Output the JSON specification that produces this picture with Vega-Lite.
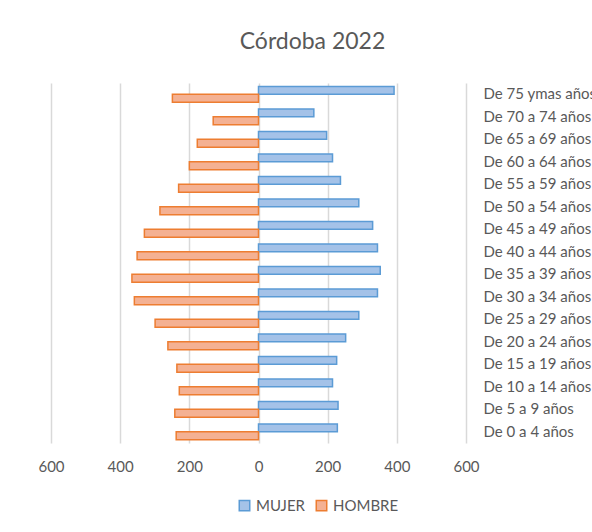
{
  "$schema": "https://vega.github.io/schema/vega-lite/v6.json",
  "autosize": {"type": "none"},
  "padding": {"left": 51, "top": 83, "right": 126, "bottom": 89},
  "width": 415,
  "height": 360,
  "background": "white",
  "title": {
    "text": "Córdoba  2022",
    "font": "Lato",
    "fontSize": 23,
    "fontWeight": "normal",
    "color": "#595959",
    "anchor": "middle",
    "frame": "group",
    "dx": 54,
    "offset": 29
  },
  "data": {
    "values": [
      {"grupo": "De 75 ymas años", "sexo": "MUJER", "valor": 392},
      {"grupo": "De 75 ymas años", "sexo": "HOMBRE", "valor": -249},
      {"grupo": "De 70 a 74 años", "sexo": "MUJER", "valor": 160},
      {"grupo": "De 70 a 74 años", "sexo": "HOMBRE", "valor": -131},
      {"grupo": "De 65 a 69 años", "sexo": "MUJER", "valor": 197},
      {"grupo": "De 65 a 69 años", "sexo": "HOMBRE", "valor": -177},
      {"grupo": "De 60 a 64 años", "sexo": "MUJER", "valor": 214},
      {"grupo": "De 60 a 64 años", "sexo": "HOMBRE", "valor": -200},
      {"grupo": "De 55 a 59 años", "sexo": "MUJER", "valor": 237},
      {"grupo": "De 55 a 59 años", "sexo": "HOMBRE", "valor": -231},
      {"grupo": "De 50 a 54 años", "sexo": "MUJER", "valor": 290},
      {"grupo": "De 50 a 54 años", "sexo": "HOMBRE", "valor": -285},
      {"grupo": "De 45 a 49 años", "sexo": "MUJER", "valor": 330},
      {"grupo": "De 45 a 49 años", "sexo": "HOMBRE", "valor": -330},
      {"grupo": "De 40 a 44 años", "sexo": "MUJER", "valor": 344},
      {"grupo": "De 40 a 44 años", "sexo": "HOMBRE", "valor": -351},
      {"grupo": "De 35 a 39 años", "sexo": "MUJER", "valor": 352},
      {"grupo": "De 35 a 39 años", "sexo": "HOMBRE", "valor": -366},
      {"grupo": "De 30 a 34 años", "sexo": "MUJER", "valor": 344},
      {"grupo": "De 30 a 34 años", "sexo": "HOMBRE", "valor": -359},
      {"grupo": "De 25 a 29 años", "sexo": "MUJER", "valor": 290},
      {"grupo": "De 25 a 29 años", "sexo": "HOMBRE", "valor": -299},
      {"grupo": "De 20 a 24 años", "sexo": "MUJER", "valor": 252},
      {"grupo": "De 20 a 24 años", "sexo": "HOMBRE", "valor": -262},
      {"grupo": "De 15 a 19 años", "sexo": "MUJER", "valor": 226},
      {"grupo": "De 15 a 19 años", "sexo": "HOMBRE", "valor": -236},
      {"grupo": "De 10 a 14 años", "sexo": "MUJER", "valor": 214},
      {"grupo": "De 10 a 14 años", "sexo": "HOMBRE", "valor": -229},
      {"grupo": "De 5 a 9 años", "sexo": "MUJER", "valor": 230},
      {"grupo": "De 5 a 9 años", "sexo": "HOMBRE", "valor": -242},
      {"grupo": "De 0 a 4 años", "sexo": "MUJER", "valor": 228},
      {"grupo": "De 0 a 4 años", "sexo": "HOMBRE", "valor": -238}
    ]
  },
  "mark": {"type": "bar", "strokeWidth": 1.5},
  "encoding": {
    "y": {
      "field": "grupo",
      "type": "nominal",
      "sort": null,
      "scale": {"paddingInner": 0.3, "paddingOuter": 0.15},
      "axis": {
        "orient": "right",
        "title": null,
        "ticks": false,
        "domain": false,
        "labelPadding": 17,
        "labelFont": "Lato",
        "labelFontSize": 15,
        "labelColor": "#595959",
        "labelAlign": "left"
      }
    },
    "yOffset": {
      "field": "sexo",
      "type": "nominal",
      "sort": ["MUJER", "HOMBRE"]
    },
    "x": {
      "field": "valor",
      "type": "quantitative",
      "scale": {"domain": [-600, 600], "nice": false},
      "axis": {
        "title": null,
        "values": [-600, -400, -200, 0, 200, 400, 600],
        "labelExpr": "abs(datum.value)",
        "labelFlush": false,
        "domain": false,
        "ticks": false,
        "grid": true,
        "gridColor": "#d9d9d9",
        "gridWidth": 1.5,
        "labelPadding": 16,
        "labelFont": "Lato",
        "labelFontSize": 15,
        "labelColor": "#595959"
      }
    },
    "fill": {
      "field": "sexo",
      "type": "nominal",
      "sort": ["MUJER", "HOMBRE"],
      "scale": {"domain": ["MUJER", "HOMBRE"], "range": ["#a4c2e8", "#f4b193"]},
      "legend": {
        "title": null,
        "orient": "none",
        "direction": "horizontal",
        "legendX": 186,
        "legendY": 415,
        "symbolType": "square",
        "symbolSize": 110,
        "symbolStrokeWidth": 1.5,
        "labelFont": "Lato",
        "labelFontSize": 15,
        "labelColor": "#595959",
        "labelOffset": 4,
        "columnPadding": 8
      }
    },
    "stroke": {
      "field": "sexo",
      "type": "nominal",
      "sort": ["MUJER", "HOMBRE"],
      "scale": {"domain": ["MUJER", "HOMBRE"], "range": ["#5b9bd5", "#ed7d31"]},
      "legend": null
    }
  },
  "config": {"view": {"stroke": null}}
}
